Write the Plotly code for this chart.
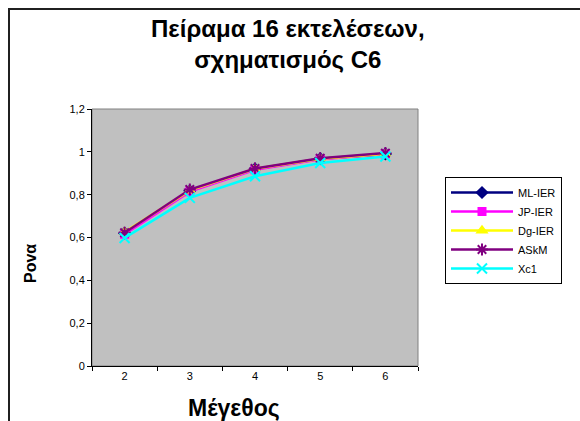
import plotly.graph_objects as go

# Experiment data: size of configuration vs. ratio
sizes = ["2", "3", "4", "5", "6"]
ml_ier = [0.620, 0.818, 0.920, 0.968, 0.990]
jp_ier = [0.615, 0.814, 0.916, 0.965, 0.990]
dg_ier = [0.625, 0.820, 0.921, 0.968, 0.991]
askm = [0.622, 0.824, 0.922, 0.970, 0.994]
xc1 = [0.598, 0.785, 0.886, 0.948, 0.978]

y_ticks = [0, 0.2, 0.4, 0.6, 0.8, 1.0, 1.2]

series = [
    ("ML-IER", ml_ier, "#000080", "diamond", 8),
    ("JP-IER", jp_ier, "#FF00FF", "square", 7),
    ("Dg-IER", dg_ier, "#FFFF00", "triangle-up", 8),
    ("ASkM", askm, "#800080", "asterisk-open", 10),
    ("Xc1", xc1, "#00FFFF", "x-thin-open", 10),
]

FONT = "Liberation Sans, Arial, sans-serif"

fig = go.Figure()
for name, vals, color, symbol, msize in series:
    fig.add_trace(go.Scatter(
        x=sizes, y=vals, name=name, mode="lines+markers",
        line=dict(color=color, width=2.5),
        marker=dict(symbol=symbol, size=msize, color=color,
                    line=dict(color=color, width=2)),
    ))

W, H = 580, 421
L, R, T, B = 92, 418, 109, 366  # plot area in pixels
pw, ph = R - L, B - T


def px(x):
    return (x - L) / pw


def py(y):
    return (B - y) / ph


fig.update_layout(
    width=W, height=H,
    margin=dict(l=L, r=W - R, t=T, b=H - B),
    paper_bgcolor="white", plot_bgcolor="#C0C0C0",
    separators=",.",
    font=dict(family=FONT, size=11, color="black"),
    showlegend=True,
    legend=dict(
        x=px(445), y=py(177), xanchor="left", yanchor="top",
        bgcolor="white", bordercolor="black", borderwidth=1,
        font=dict(family=FONT, size=11, color="black"),
        tracegroupgap=0, itemwidth=62,
        entrywidth=65, entrywidthmode="pixels",
    ),
    xaxis=dict(
        type="category", range=[-0.5, 4.5],
        showgrid=False, zeroline=False,
        ticks="outside", ticklen=4, tickcolor="black", tickson="boundaries",
        showline=True, linecolor="black", linewidth=1,
        tickfont=dict(family=FONT, size=11),
    ),
    yaxis=dict(
        range=[0, 1.2], tickvals=y_ticks,
        showgrid=False, zeroline=False,
        ticks="outside", ticklen=4, tickcolor="black",
        showline=True, linecolor="black", linewidth=1,
        tickfont=dict(family=FONT, size=11),
    ),
    shapes=[
        # plot area frame
        dict(type="rect", xref="paper", yref="paper", x0=0, y0=0, x1=1, y1=1,
             line=dict(color="#808080", width=1), layer="below"),
        # chart area border
        dict(type="rect", xref="paper", yref="paper",
             x0=px(9), y0=py(440), x1=px(590), y1=py(9),
             line=dict(color="#202020", width=2)),
    ],
    annotations=[
        dict(text="<b>Πείραμα 16 εκτελέσεων,<br>σχηματισμός C6</b>",
             xref="paper", yref="paper", x=px(288), y=py(44),
             xanchor="center", yanchor="middle", showarrow=False,
             font=dict(family=FONT, size=24, color="black")),
        dict(text="<b>Μέγεθος</b>",
             xref="paper", yref="paper", x=px(234), y=py(408),
             xanchor="center", yanchor="middle", showarrow=False,
             font=dict(family=FONT, size=23, color="black")),
        dict(text="<b>Ροvα</b>",
             xref="paper", yref="paper", x=px(30), y=py(263),
             xanchor="center", yanchor="middle", showarrow=False, textangle=-90,
             font=dict(family=FONT, size=16, color="black")),
    ],
)

fig.write_html("out.html")
